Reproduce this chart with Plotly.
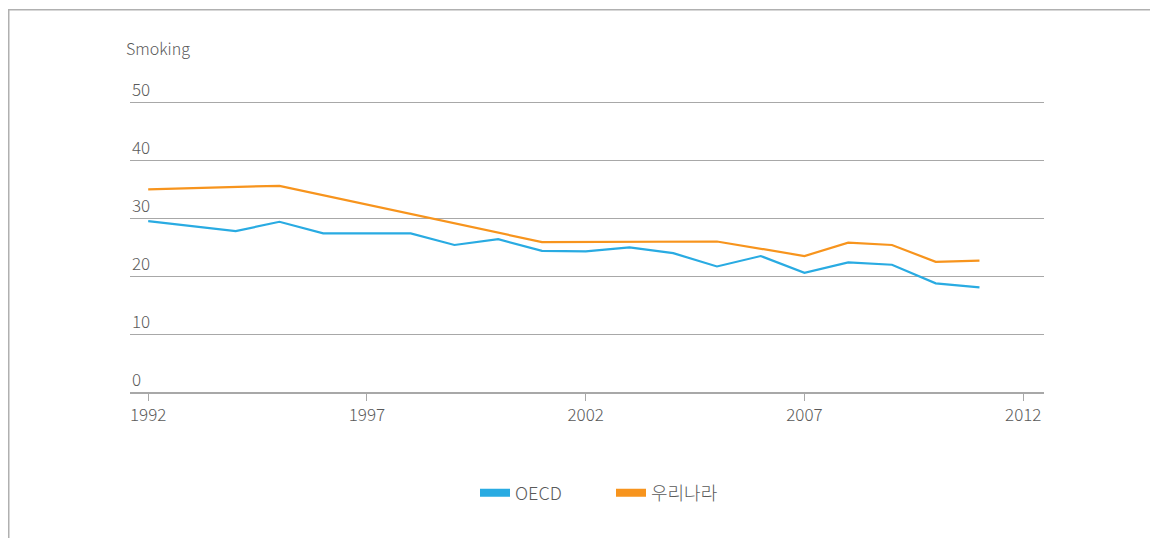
import plotly.graph_objects as go

# Data
oecd_years = [1992, 1994, 1995, 1996, 1998, 1999, 2000, 2001, 2002, 2003, 2004,
              2005, 2006, 2007, 2008, 2009, 2010, 2011]
oecd_values = [29.6, 27.9, 29.5, 27.5, 27.5, 25.5, 26.5, 24.5, 24.4, 25.1, 24.1,
               21.8, 23.6, 20.7, 22.5, 22.1, 18.9, 18.2]

korea_years = [1992, 1995, 2001, 2005, 2007, 2008, 2009, 2010, 2011]
korea_values = [35.1, 35.7, 26.0, 26.1, 23.6, 25.9, 25.5, 22.6, 22.8]

x_ticks = [1992, 1997, 2002, 2007, 2012]
y_ticks = [0, 10, 20, 30, 40, 50]

series_names = ["OECD", "우리나라"]
series_colors = ["#29abe2", "#f7941d"]
y_title = "Smoking"

FONT = "'Noto Sans CJK KR', 'Noto Sans', sans-serif"
TEXT = "#5a5a5a"
GRID = "#a8a8a8"

fig = go.Figure()
for name, xs, ys, col in [(series_names[0], oecd_years, oecd_values, series_colors[0]),
                          (series_names[1], korea_years, korea_values, series_colors[1])]:
    fig.add_trace(go.Scatter(x=xs, y=ys, mode="lines", name=name,
                             line=dict(color=col, width=2.2), showlegend=False,
                             hoverinfo="skip"))
# legend entries (thick swatches)
for name, col in zip(series_names, series_colors):
    fig.add_trace(go.Scatter(x=[None], y=[None], mode="lines", name=name,
                             line=dict(color=col, width=8), showlegend=True))

# page body has an 8px margin: figure coords = screen coords - 8
OFF = 8
PX_PER_UNIT = 5.8
Y_TOP = 51
W, H = 1158 - OFF, 538 - OFF
plot_top_screen = 393 - Y_TOP * PX_PER_UNIT
L, R, T, B = 130 - OFF, W - (1044 - OFF), plot_top_screen - OFF, H - (393 - OFF)
pw, ph = W - L - R, H - T - B

def px(sx):
    return (sx - OFF - L) / pw

def py(sy):
    return (H - B - (sy - OFF)) / ph

fig.update_layout(
    width=W, height=H,
    margin=dict(l=L, r=R, t=T, b=B, pad=0),
    paper_bgcolor="white", plot_bgcolor="white",
    font=dict(family=FONT, color=TEXT, size=17, weight=300),
    xaxis=dict(range=[1991.584, 2012.475], tickvals=x_ticks,
               ticktext=[str(v) for v in x_ticks],
               showgrid=False, zeroline=False, showline=False,
               ticks="outside", ticklen=7, tickcolor=GRID, tickwidth=1,
               tickfont=dict(size=17, color=TEXT, weight=300)),
    yaxis=dict(range=[0, Y_TOP], tickvals=y_ticks, showticklabels=False,
               showgrid=True, gridcolor=GRID, gridwidth=1.4,
               zeroline=True, zerolinecolor=GRID, zerolinewidth=1.5,
               showline=False, ticks=""),
    legend=dict(orientation="h", x=px(611), y=py(493), xanchor="center",
                yanchor="middle", font=dict(size=18, color=TEXT, weight=300),
                itemwidth=30, entrywidth=91, bgcolor="rgba(0,0,0,0)"),
    showlegend=True,
)

# y tick labels sit above their gridlines, left aligned
for v in y_ticks:
    fig.add_annotation(text=str(v), xref="paper", yref="y", x=0, y=v,
                       xanchor="left", yanchor="bottom", showarrow=False,
                       font=dict(size=17, color=TEXT, weight=300))

fig.add_annotation(text=y_title, xref="paper", yref="paper",
                   x=px(124), y=py(48), xanchor="left", yanchor="middle",
                   showarrow=False, font=dict(size=16, color=TEXT, weight=300))

fig.add_shape(type="rect", xref="paper", yref="paper",
              x0=px(8.75), x1=px(1155.5), y0=py(600), y1=py(10),
              line=dict(color="#b0b0b0", width=1.5), fillcolor="rgba(0,0,0,0)",
              layer="below")

fig.write_html("out.html")
